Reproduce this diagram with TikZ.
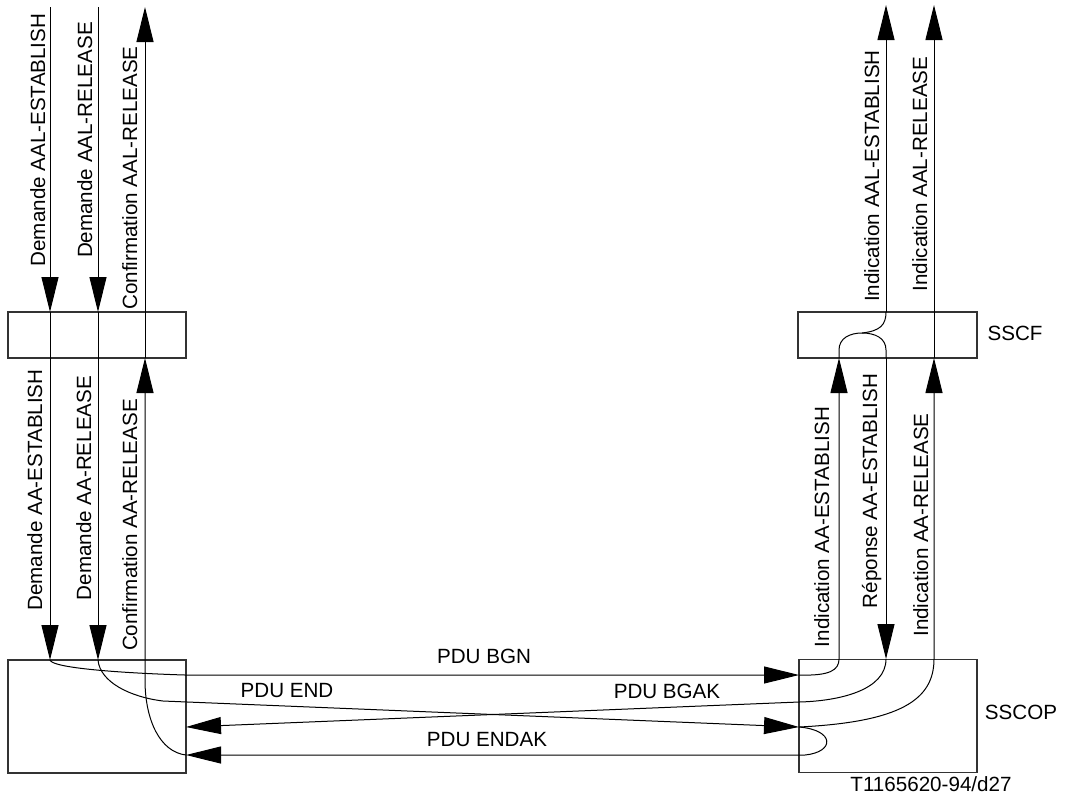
\documentclass[tikz,border=0pt]{standalone}
\usepackage{fontspec}
\setmainfont{Liberation Sans}
\usetikzlibrary{arrows.meta}
\begin{document}
\begin{tikzpicture}[x=1pt,y=-1pt,
  box/.style={draw=black!80,line width=1.3pt,inner sep=0pt,fill=none},
  ln/.style={draw=black,line width=1pt},
  arr/.style={ln,-{Triangle[length=35pt,width=17pt]}},
  lbl/.style={font=\fontsize{20.6}{24}\selectfont,inner sep=0pt,anchor=base},
  vlbl/.style={lbl,rotate=90}]
\useasboundingbox (0,0) rectangle (1067,796);
% boxes
\node[box,minimum width=178pt,minimum height=46pt] (lsscf) at (97,335) {};
\node[box,minimum width=178pt,minimum height=113pt] (lsscop) at (97,716.5) {};
\node[box,minimum width=179pt,minimum height=46pt] (rsscf) at (887.5,335) {};
\node[box,minimum width=178pt,minimum height=113pt] (rsscop) at (888,716) {};
% coordinates
\coordinate (a0) at (50,7);   \coordinate (a1) at (50,312);  \coordinate (a2) at (50,358);  \coordinate (a3) at (50,660);
\coordinate (b0) at (98,7);   \coordinate (b1) at (98,312);  \coordinate (b2) at (98,358);  \coordinate (b3) at (98,660);
\coordinate (c0) at (145,7);  \coordinate (c1) at (145,312); \coordinate (c2) at (145,358); \coordinate (c3) at (145,680);
\coordinate (d0) at (886,5);  \coordinate (d1) at (886,312); \coordinate (d2) at (886,358); \coordinate (d3) at (886,659);
\coordinate (e0) at (934,5);  \coordinate (e1) at (934,312); \coordinate (e2) at (934,358); \coordinate (e3) at (934,659);
\coordinate (f2) at (839,358); \coordinate (f3) at (839,659);
\coordinate (top) at (862,333);
\coordinate (bgnL) at (185,675); \coordinate (bgnR) at (799,675);
\coordinate (endL) at (163,701); \coordinate (endR) at (799,727);
\coordinate (bgakR) at (799,702); \coordinate (bgakL) at (186,727);
\coordinate (endakR) at (805,755); \coordinate (endakL) at (186,755);
% left verticals
\draw[arr] (a0) -- (a1); \draw[ln] (a1) -- (a2); \draw[arr] (a2) -- (a3);
\draw[arr] (b0) -- (b1); \draw[ln] (b1) -- (b2); \draw[arr] (b2) -- (b3);
\draw[arr] (c1) -- (c0); \draw[ln] (c2) -- (c1);
\draw[arr] (endakL) .. controls (160,752) and (145,720) .. (c3) -- (c2);
% PDUs
\draw[arr] (a3) .. controls (52,668) and (120,673) .. (bgnL) -- (bgnR);
\draw[arr] (b3) .. controls (100,682) and (130,697) .. (endL) -- (endR);
\draw[arr] (d3) .. controls (886,690) and (840,701) .. (bgakR) -- (bgakL);
\draw[arr] (endR) .. controls (835,730) and (835,752) .. (endakR) -- (endakL);
% right side
\draw[arr] (bgnR) .. controls (830,676) and (839,670) .. (f3) -- (f2);
\draw[arr] (endR) .. controls (900,722) and (934,700) .. (e3) -- (e2);
\draw[arr] (e2) -- (e0);
\draw[arr] (d2) -- (d3);
\draw[ln] (f2) -- (839,350) .. controls (839,338) and (850,333) .. (top) .. controls (875,333) and (886,338) .. (886,350) -- (d2);
\draw[ln] (top) .. controls (880,331) and (886,325) .. (d1);
\draw[arr] (d1) -- (d0);
% vertical labels
\node[vlbl] (t1) at (45,140) {Demande AAL-ESTABLISH};
\node[vlbl] (t2) at (92,140) {Demande AAL-RELEASE};
\node[vlbl] (t3) at (137,178) {Confirmation AAL-RELEASE};
\node[vlbl] (t4) at (42,490) {Demande AA-ESTABLISH};
\node[vlbl] (t5) at (91,488) {Demande AA-RELEASE};
\node[vlbl] (t6) at (137,525) {Confirmation AA-RELEASE};
\node[vlbl] (t7) at (879,176) {Indication AAL-ESTABLISH};
\node[vlbl] (t8) at (927,174) {Indication AAL-RELEASE};
\node[vlbl] (t9) at (829,527) {Indication AA-ESTABLISH};
\node[vlbl] (t10) at (877,491) {Réponse AA-ESTABLISH};
\node[vlbl] (t11) at (928,525) {Indication AA-RELEASE};
% horizontal labels
\node[lbl] (p1) at (484,663) {PDU BGN};
\node[lbl] (p2) at (287,697) {PDU END};
\node[lbl] (p3) at (667,698) {PDU BGAK};
\node[lbl] (p4) at (487,746) {PDU ENDAK};
\node[lbl] (s1) at (1015,340) {SSCF};
\node[lbl] (s2) at (1021,719) {SSCOP};
\node[lbl] (s3) at (931,791) {T1165620-94/d27};
\end{tikzpicture}
\end{document}
